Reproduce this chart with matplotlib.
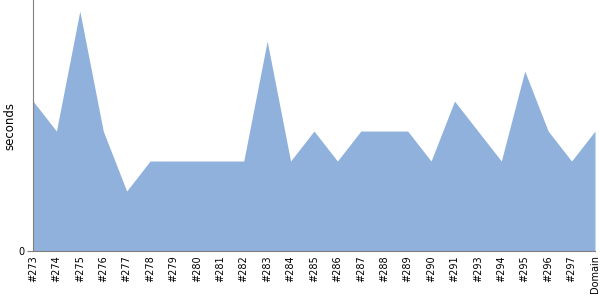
import matplotlib
matplotlib.use("Agg")
import matplotlib.pyplot as plt

# Data
builds = ['#273', '#274', '#275', '#276', '#277', '#278', '#279', '#280', '#281',
          '#282', '#283', '#284', '#285', '#286', '#287', '#288', '#289', '#290',
          '#291', '#293', '#294', '#295', '#296', '#297', 'Domain']
seconds = [5, 4, 8, 4, 2, 3, 3, 3, 3, 3, 7, 3, 4, 3, 4, 4, 4, 3, 5, 4, 3, 6, 4, 3, 4]

x = list(range(len(builds)))

fig = plt.figure(figsize=(6, 3), dpi=100)
ax = fig.add_axes([33 / 600, 49 / 300, 562 / 600, 251 / 300])
ax.fill_between(x, seconds, 0, color='#8fb1dc', linewidth=0)

ax.set_xlim(0, len(builds) - 1)
ax.set_ylim(0, 8.37)
ax.set_xticks(x)
ax.set_xticklabels(builds, rotation=90, fontsize=7)
ax.set_yticks([0])
ax.set_yticklabels(['0'], fontsize=7)
ax.tick_params(axis='x', length=0, pad=3)
ax.tick_params(axis='y', length=4, color='#808080', pad=2)
ax.set_ylabel('seconds', fontsize=8.5)
ax.yaxis.set_label_coords(-0.029, 0.5)

for side in ['top', 'right']:
    ax.spines[side].set_visible(False)
ax.spines['left'].set_color('#808080')
ax.spines['bottom'].set_color('#808080')

fig.savefig('out.png', dpi=100)
